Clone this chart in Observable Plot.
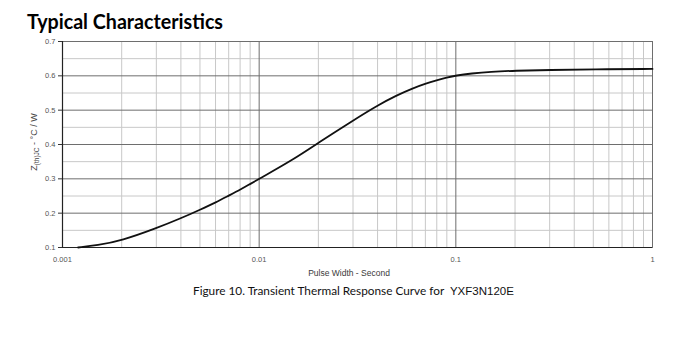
<!DOCTYPE html>
<html><head><meta charset="utf-8">
<script src="https://cdn.jsdelivr.net/npm/d3@7"></script>
<script src="https://cdn.jsdelivr.net/npm/@observablehq/plot@0.6"></script>
<style>body{margin:0;background:#fff}</style>
</head><body><div id="chart"></div>
<script>
// Data
const pulseWidth = [0.0012, 0.0015, 0.002, 0.003, 0.004, 0.005, 0.006, 0.007, 0.008, 0.009, 0.01, 0.015, 0.02, 0.03, 0.04, 0.05, 0.06, 0.07, 0.08, 0.09, 0.1, 0.12, 0.15, 0.2, 0.3, 0.5, 1];
const zth = [0.100, 0.106, 0.120, 0.156, 0.185, 0.210, 0.231, 0.251, 0.268, 0.285, 0.300, 0.357, 0.405, 0.470, 0.514, 0.543, 0.563, 0.577, 0.587, 0.595, 0.601, 0.607, 0.612, 0.615, 0.617, 0.619, 0.620];
const xTicks = [0.001, 0.01, 0.1, 1];
const xTickLabels = ["0.001", "0.01", "0.1", "1"];
const yTicks = [0.1, 0.2, 0.3, 0.4, 0.5, 0.6, 0.7];
const yTickLabels = ["0.1", "0.2", "0.3", "0.4", "0.5", "0.6", "0.7"];
const yMinor = [0.15, 0.25, 0.35, 0.45, 0.55, 0.65];
const xMinorMultipliers = [2, 3, 4, 5, 6, 7, 8, 9];
const titleText = "Typical Characteristics";
const xLabel = "Pulse Width - Second";
const captionText = "Figure 10. Transient Thermal Response Curve for";
const partNumber = "YXF3N120E";

const data = pulseWidth.map((t, i) => ({t, z: zth[i]}));
const xMinor = xTicks.slice(0, 3).flatMap(d => xMinorMultipliers.map(k => +(k * d).toPrecision(3)));

const svg = Plot.plot({
  width: 680, height: 344,
  marginLeft: 62, marginRight: 28, marginTop: 41, marginBottom: 97,
  style: {fontFamily: "'Liberation Sans', Arial, sans-serif", background: "#fff"},
  x: {type: "log", domain: [0.001, 1], axis: null},
  y: {domain: [0.1, 0.7], axis: null},
  marks: [
    Plot.ruleX(xMinor, {stroke: "#c8c8c8", strokeWidth: 1}),
    Plot.ruleY(yMinor, {stroke: "#c8c8c8", strokeWidth: 1}),
    Plot.ruleX(xTicks, {stroke: "#6e6e6e", strokeWidth: 1}),
    Plot.ruleY(yTicks, {stroke: "#6e6e6e", strokeWidth: 1}),
    Plot.frame({stroke: "#6e6e6e"}),
    Plot.ruleX([0.001], {stroke: "#222", strokeWidth: 1.2}),
    Plot.ruleY([0.1], {stroke: "#222", strokeWidth: 1.2}),
    Plot.axisY(yTicks, {tickSize: 4, tickPadding: 3, tickFormat: d => yTickLabels[yTicks.indexOf(d)], fontSize: 7.5, fill: "#555", stroke: "#333", label: null}),
    Plot.axisX(xTicks, {tickSize: 0, tickPadding: 9, tickFormat: d => xTickLabels[xTicks.indexOf(d)], fontSize: 7.5, fill: "#555", label: null}),
    Plot.line(data, {x: "t", y: "z", curve: "basis", stroke: "#111", strokeWidth: 1.8})
  ]
});
document.getElementById("chart").appendChild(svg);

const s = d3.select(svg);
s.append("text").attr("x", 27).attr("y", 29)
  .attr("text-anchor", "start")
  .attr("font-family", "Lato, 'Open Sans', sans-serif").attr("font-weight", "bold")
  .attr("font-size", 20).attr("fill", "#000")
  .attr("textLength", 196).attr("lengthAdjust", "spacingAndGlyphs")
  .text(titleText);

const yl = s.append("text")
  .attr("transform", "translate(37,142) rotate(-90)")
  .attr("text-anchor", "middle")
  .attr("font-family", "'Liberation Sans', Arial, sans-serif")
  .attr("font-size", 9).attr("fill", "#444");
yl.append("tspan").text("Z");
yl.append("tspan").attr("font-size", 6.5).attr("dy", 2).text("(th)JC");
yl.append("tspan").attr("dy", -2).text(" - °C / W");

s.append("text").attr("x", 349).attr("y", 276)
  .attr("text-anchor", "middle")
  .attr("font-family", "'Liberation Sans', Arial, sans-serif")
  .attr("font-size", 8.5).attr("fill", "#3a3a3a")
  .text(xLabel);

const cap = s.append("text").attr("x", 193).attr("y", 295)
  .attr("text-anchor", "start").attr("fill", "#111");
cap.append("tspan")
  .attr("font-family", "Lato, 'Open Sans', sans-serif")
  .attr("font-size", 11.8)
  .text(captionText + " ");
cap.append("tspan")
  .attr("dx", 3)
  .attr("font-family", "'Liberation Sans', Arial, sans-serif")
  .attr("font-size", 11.5)
  .text(partNumber);
</script>
</body></html>
